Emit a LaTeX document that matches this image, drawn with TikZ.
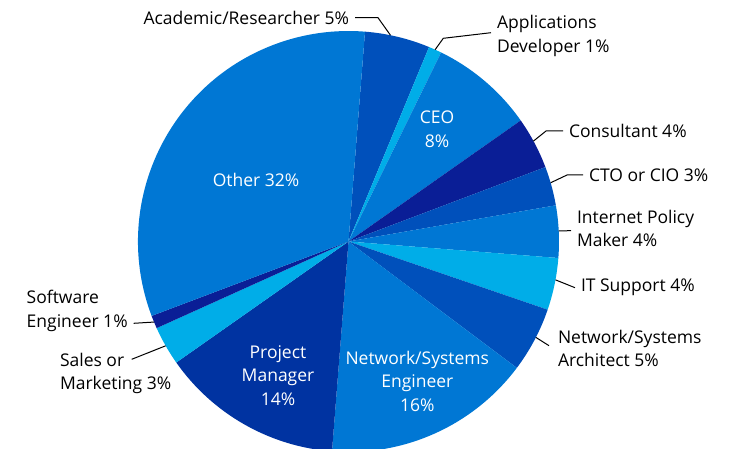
\documentclass[tikz,border=0pt]{standalone}
\usepackage{fontspec}
\setmainfont{Open Sans}
\usetikzlibrary{calc, positioning}
\definecolor{MidBlue}{HTML}{0077D4}
\definecolor{DeepBlue}{HTML}{0050BB}
\definecolor{SkyBlue}{HTML}{00ADE8}
\definecolor{NavyBlue}{HTML}{0A1E96}
\definecolor{RoyalBlue}{HTML}{0033A1}
\newcommand{\chartfont}{\fontsize{17.5}{23.5}\selectfont}
\tikzset{
  slicelabel/.style={text=white, align=center, inner sep=0pt, font=\chartfont},
  outlabel/.style={text=black, align=left, inner sep=0pt, outer sep=6pt, font=\chartfont},
  leader/.style={draw=black, line width=1pt}
}

\begin{document}
\begin{tikzpicture}[x=1pt, y=1pt]
  \useasboundingbox (0,0) rectangle (729,448);
  \clip (0,0) rectangle (729,448);
  \coordinate (C) at (348.5,206.5);

  % Slices, clockwise from the top
  \foreach \pct/\col [remember=\e as \s (initially 0), evaluate=\pct as \e using \s+\pct] in {
    5/DeepBlue, 1/SkyBlue, 8/MidBlue, 4/NavyBlue, 3/DeepBlue, 4/MidBlue, 4/SkyBlue,
    5/DeepBlue, 16/MidBlue, 14/RoyalBlue, 3/SkyBlue, 1/NavyBlue, 32/MidBlue} {
    \fill[\col] (C) -- ++(85.5-3.6*\s:210.5pt)
      arc[start angle=85.5-3.6*\s, end angle=85.5-3.6*\e, radius=210.5pt] -- cycle;
  }

  % Leader ends on the rim
  \coordinate (acad-pt) at ($(C)+(78.5:210.5pt)$);
  \coordinate (appdev-pt) at ($(C)+(65.7:210.5pt)$);
  \coordinate (cons-pt) at ($(C)+(28.5:210.5pt)$);
  \coordinate (cto-pt) at ($(C)+(16.2:210.5pt)$);
  \coordinate (ipm-pt) at ($(C)+(2.9:210.5pt)$);
  \coordinate (it-pt) at ($(C)+(-10.5:210.5pt)$);
  \coordinate (arch-pt) at ($(C)+(-27.1:210.5pt)$);
  \coordinate (sales-pt) at ($(C)+(-150.3:210.5pt)$);
  \coordinate (soft-pt) at ($(C)+(-157.5:210.5pt)$);
  \coordinate (sales-a) at (131.7,88.7);

  % Labels inside
  \node[slicelabel] (other) at (256,268) {Other 32\%};
  \node[slicelabel] (ceo) at (437,319) {CEO\\8\%};
  \node[slicelabel] (pm) at (278,72.7) {Project\\Manager\\14\%};
  \node[slicelabel] (neteng) at (417.3,66.7) {Network/Systems\\Engineer\\16\%};

  % Labels outside
  \node[outlabel, anchor=east] (acad) at (355,430.3) {Academic/Researcher 5\%};
  \node[outlabel, anchor=west] (appdev) at (491,412) {Applications\\Developer 1\%};
  \node[outlabel, anchor=west] (cons) at (563,317) {Consultant 4\%};
  \node[outlabel, anchor=west] (cto) at (583,273) {CTO or CIO 3\%};
  \node[outlabel, anchor=west] (ipm) at (571,219.5) {Internet Policy\\Maker 4\%};
  \node[outlabel, anchor=west] (it) at (575,160.3) {IT Support 4\%};
  \node[outlabel, anchor=west] (arch) at (552,99.7) {Network/Systems\\Architect 5\%};
  \node[outlabel, anchor=west] (soft) at (20.7,137) {Software\\Engineer 1\%};
  \node[outlabel, anchor=west] (sales) at (54,74.7) {Sales or\\Marketing 3\%};

  % Leaders
  \draw[leader] (acad.east) -- ++(23,0) -- (acad-pt);
  \draw[leader] ([yshift=3.3pt]appdev.west) -- ++(-47.7,-5.6) -- (appdev-pt);
  \draw[leader] (cons.west) -- ++(-17,0) -- (cons-pt);
  \draw[leader] (cto.west) -- ++(-16,0) -- (cto-pt);
  \draw[leader] ([yshift=-2.2pt]ipm.west) -- (ipm-pt);
  \draw[leader] (it.west) -- (it-pt);
  \draw[leader] ([xshift=-3pt, yshift=2.6pt]arch.west) -- (arch-pt);
  \draw[leader] ([yshift=-12.3pt]soft.east) -- (soft-pt);
  \draw[leader] (sales-a) -- (sales-pt);
\end{tikzpicture}
\end{document}
